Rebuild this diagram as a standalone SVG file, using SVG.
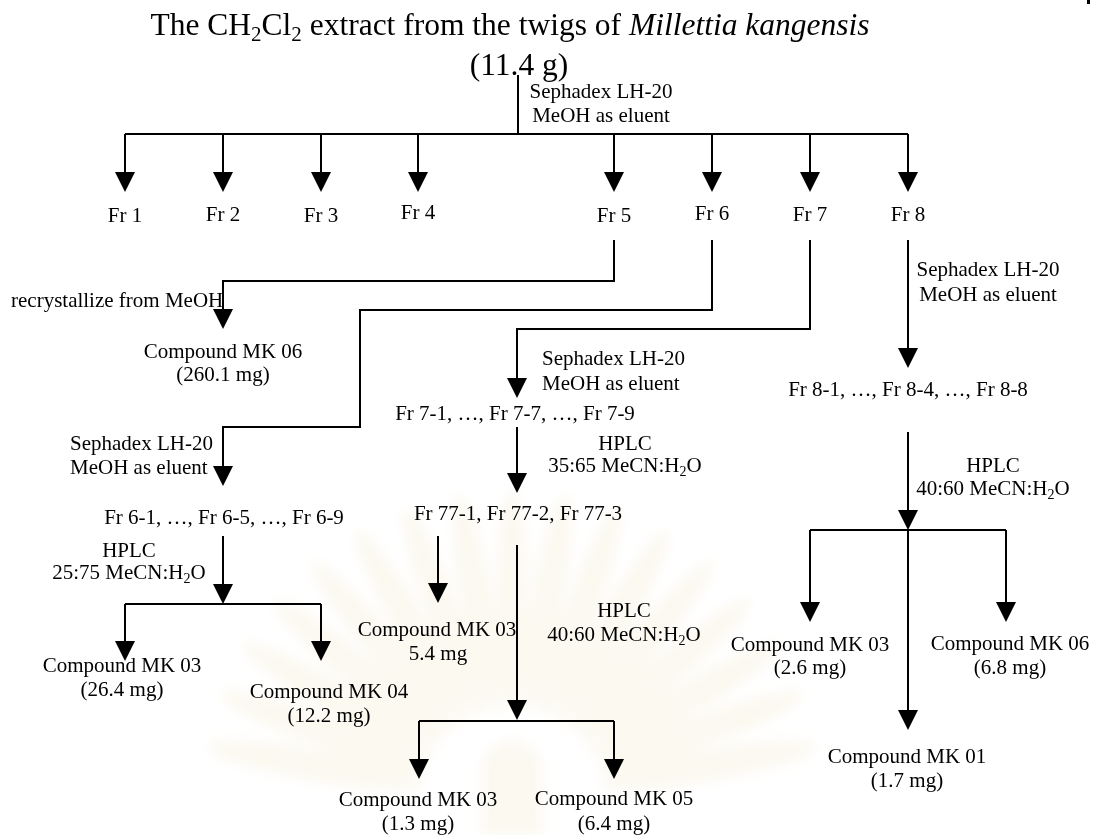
<svg xmlns="http://www.w3.org/2000/svg" width="1094" height="835" viewBox="0 0 1094 835">
  <style>
    text { font-family: "Liberation Serif", "Times New Roman", serif; fill: #000; }
    .t { font-size: 21px; }
    .c { text-anchor: middle; }
    .title { font-size: 31.5px; text-anchor: middle; }
    .conn path { fill: none; stroke: #000; stroke-width: 2; }
    .arr { marker-end: url(#head); }
    .ray { fill: #efe2bd; }
  </style>
  <defs>
    <marker id="head" viewBox="0 0 20 20" refX="0" refY="10" markerWidth="20" markerHeight="20" markerUnits="userSpaceOnUse" orient="auto">
      <path d="M0,0 L20,10 L0,20 Z" fill="#000"/>
    </marker>
    <filter id="soft" x="-20%" y="-20%" width="140%" height="140%">
      <feGaussianBlur stdDeviation="6"/>
    </filter>
  </defs>

  <rect width="1094" height="835" fill="#fff"/>

  <!-- pale emblem watermark behind the chart -->
  <g id="watermark" opacity="0.22" filter="url(#soft)">
    <g transform="translate(512,800)">
      <ellipse class="ray" cx="0" cy="-200" rx="16" ry="110" transform="rotate(-80)"/>
      <ellipse class="ray" cx="0" cy="-200" rx="16" ry="110" transform="rotate(-70)"/>
      <ellipse class="ray" cx="0" cy="-200" rx="16" ry="110" transform="rotate(-60)"/>
      <ellipse class="ray" cx="0" cy="-200" rx="16" ry="110" transform="rotate(-50)"/>
      <ellipse class="ray" cx="0" cy="-200" rx="16" ry="110" transform="rotate(-40)"/>
      <ellipse class="ray" cx="0" cy="-200" rx="16" ry="110" transform="rotate(-30)"/>
      <ellipse class="ray" cx="0" cy="-200" rx="16" ry="110" transform="rotate(-20)"/>
      <ellipse class="ray" cx="0" cy="-200" rx="16" ry="110" transform="rotate(-10)"/>
      <ellipse class="ray" cx="0" cy="-200" rx="16" ry="110"/>
      <ellipse class="ray" cx="0" cy="-200" rx="16" ry="110" transform="rotate(10)"/>
      <ellipse class="ray" cx="0" cy="-200" rx="16" ry="110" transform="rotate(20)"/>
      <ellipse class="ray" cx="0" cy="-200" rx="16" ry="110" transform="rotate(30)"/>
      <ellipse class="ray" cx="0" cy="-200" rx="16" ry="110" transform="rotate(40)"/>
      <ellipse class="ray" cx="0" cy="-200" rx="16" ry="110" transform="rotate(50)"/>
      <ellipse class="ray" cx="0" cy="-200" rx="16" ry="110" transform="rotate(60)"/>
      <ellipse class="ray" cx="0" cy="-200" rx="16" ry="110" transform="rotate(70)"/>
      <ellipse class="ray" cx="0" cy="-200" rx="16" ry="110" transform="rotate(80)"/>
      <path class="ray" d="M-30,35 L-30,-40 Q0,-80 30,-40 L30,35 Z"/>
    </g>
  </g>

  <!-- small page mark at the top right edge -->
  <rect x="1087" y="0" width="3" height="4" fill="#000"/>

  <!-- connectors -->
  <g id="connectors" class="conn">
    <!-- crude extract to eight fractions -->
    <path d="M518,75 V134"/>
    <path d="M125,134 H908"/>
    <path class="arr" d="M125,134 V172"/>
    <path class="arr" d="M223,134 V172"/>
    <path class="arr" d="M321,134 V172"/>
    <path class="arr" d="M418,134 V172"/>
    <path class="arr" d="M614,134 V172"/>
    <path class="arr" d="M712,134 V172"/>
    <path class="arr" d="M810,134 V172"/>
    <path class="arr" d="M908,134 V172"/>

    <!-- Fr 5 -->
    <path class="arr" d="M614,240 V281 H223 V309"/>
    <!-- Fr 6 -->
    <path class="arr" d="M712,240 V310 H360 V427 H223 V466"/>
    <path class="arr" d="M223,536 V584"/>
    <path d="M125,604 H321"/>
    <path class="arr" d="M125,604 V641"/>
    <path class="arr" d="M321,604 V641"/>
    <!-- Fr 7 -->
    <path class="arr" d="M810,240 V329 H517 V378"/>
    <path class="arr" d="M517,427 V473"/>
    <path class="arr" d="M438,536 V583"/>
    <path class="arr" d="M517,545 V700"/>
    <path d="M419,721 H614"/>
    <path class="arr" d="M419,721 V759"/>
    <path class="arr" d="M614,721 V759"/>
    <!-- Fr 8 -->
    <path class="arr" d="M908,240 V348"/>
    <path class="arr" d="M908,432 V510"/>
    <path d="M810,530 H1006"/>
    <path class="arr" d="M810,530 V602"/>
    <path class="arr" d="M1006,530 V602"/>
    <path class="arr" d="M908,530 V710"/>
  </g>

  <g id="extract">
    <text class="title" x="510" y="35">The CH<tspan font-size="21" dy="6">2</tspan><tspan dy="-6">Cl</tspan><tspan font-size="21" dy="6">2</tspan><tspan dy="-6"> extract from the twigs of </tspan><tspan font-style="italic">Millettia kangensis</tspan></text>
    <text class="title" x="519" y="75">(11.4 g)</text>
  </g>
  <g id="step-main">
    <text class="t c" x="601" y="98">Sephadex LH-20</text>
    <text class="t c" x="601" y="122">MeOH as eluent</text>
  </g>

  <g id="fractions">
    <text class="t c" x="125" y="222">Fr 1</text>
    <text class="t c" x="223" y="221">Fr 2</text>
    <text class="t c" x="321" y="222">Fr 3</text>
    <text class="t c" x="418" y="219">Fr 4</text>
    <text class="t c" x="614" y="222">Fr 5</text>
    <text class="t c" x="712" y="220">Fr 6</text>
    <text class="t c" x="810" y="221">Fr 7</text>
    <text class="t c" x="908" y="221">Fr 8</text>
  </g>

  <!-- Fr 5 branch -->
  <g id="step-fr5">
    <text class="t" x="11" y="307">recrystallize from MeOH</text>
  </g>
  <g id="mk06-a">
    <text class="t c" x="223" y="358">Compound MK 06</text>
    <text class="t c" x="223" y="381">(260.1 mg)</text>
  </g>

  <!-- Fr 6 branch -->
  <g id="step-fr6">
    <text class="t" x="70" y="450">Sephadex LH-20</text>
    <text class="t" x="70" y="474">MeOH as eluent</text>
  </g>
  <g id="fr6-sub">
    <text class="t c" x="224" y="524">Fr 6-1, …, Fr 6-5, …, Fr 6-9</text>
  </g>
  <g id="step-fr6-hplc">
    <text class="t c" x="129" y="557">HPLC</text>
    <text class="t c" x="129" y="579">25:75 MeCN:H<tspan font-size="14" dy="4">2</tspan><tspan dy="-4">O</tspan></text>
  </g>
  <g id="mk03-a">
    <text class="t c" x="122" y="672">Compound MK 03</text>
    <text class="t c" x="122" y="696">(26.4 mg)</text>
  </g>
  <g id="mk04">
    <text class="t c" x="329" y="698">Compound MK 04</text>
    <text class="t c" x="329" y="722">(12.2 mg)</text>
  </g>

  <!-- Fr 7 branch -->
  <g id="step-fr7">
    <text class="t" x="542" y="365">Sephadex LH-20</text>
    <text class="t" x="542" y="390">MeOH as eluent</text>
  </g>
  <g id="fr7-sub">
    <text class="t c" x="515" y="420">Fr 7-1, …, Fr 7-7, …, Fr 7-9</text>
  </g>
  <g id="step-fr7-hplc">
    <text class="t c" x="625" y="450">HPLC</text>
    <text class="t c" x="625" y="472">35:65 MeCN:H<tspan font-size="14" dy="4">2</tspan><tspan dy="-4">O</tspan></text>
  </g>
  <g id="fr77-sub">
    <text class="t c" x="518" y="520">Fr 77-1, Fr 77-2, Fr 77-3</text>
  </g>
  <g id="mk03-b">
    <text class="t c" x="437" y="636">Compound MK 03</text>
    <text class="t c" x="438" y="660">5.4 mg</text>
  </g>
  <g id="step-fr77-hplc">
    <text class="t c" x="624" y="617">HPLC</text>
    <text class="t c" x="624" y="641">40:60 MeCN:H<tspan font-size="14" dy="4">2</tspan><tspan dy="-4">O</tspan></text>
  </g>
  <g id="mk03-c">
    <text class="t c" x="418" y="806">Compound MK 03</text>
    <text class="t c" x="418" y="830">(1.3 mg)</text>
  </g>
  <g id="mk05">
    <text class="t c" x="614" y="805">Compound MK 05</text>
    <text class="t c" x="614" y="830">(6.4 mg)</text>
  </g>

  <!-- Fr 8 branch -->
  <g id="step-fr8">
    <text class="t c" x="988" y="276">Sephadex LH-20</text>
    <text class="t c" x="988" y="301">MeOH as eluent</text>
  </g>
  <g id="fr8-sub">
    <text class="t c" x="908" y="396">Fr 8-1, …, Fr 8-4, …, Fr 8-8</text>
  </g>
  <g id="step-fr8-hplc">
    <text class="t c" x="993" y="472">HPLC</text>
    <text class="t c" x="993" y="495">40:60 MeCN:H<tspan font-size="14" dy="4">2</tspan><tspan dy="-4">O</tspan></text>
  </g>
  <g id="mk03-d">
    <text class="t c" x="810" y="651">Compound MK 03</text>
    <text class="t c" x="810" y="674">(2.6 mg)</text>
  </g>
  <g id="mk06-b">
    <text class="t c" x="1010" y="650">Compound MK 06</text>
    <text class="t c" x="1010" y="674">(6.8 mg)</text>
  </g>
  <g id="mk01">
    <text class="t c" x="907" y="763">Compound MK 01</text>
    <text class="t c" x="907" y="787">(1.7 mg)</text>
  </g>
</svg>
